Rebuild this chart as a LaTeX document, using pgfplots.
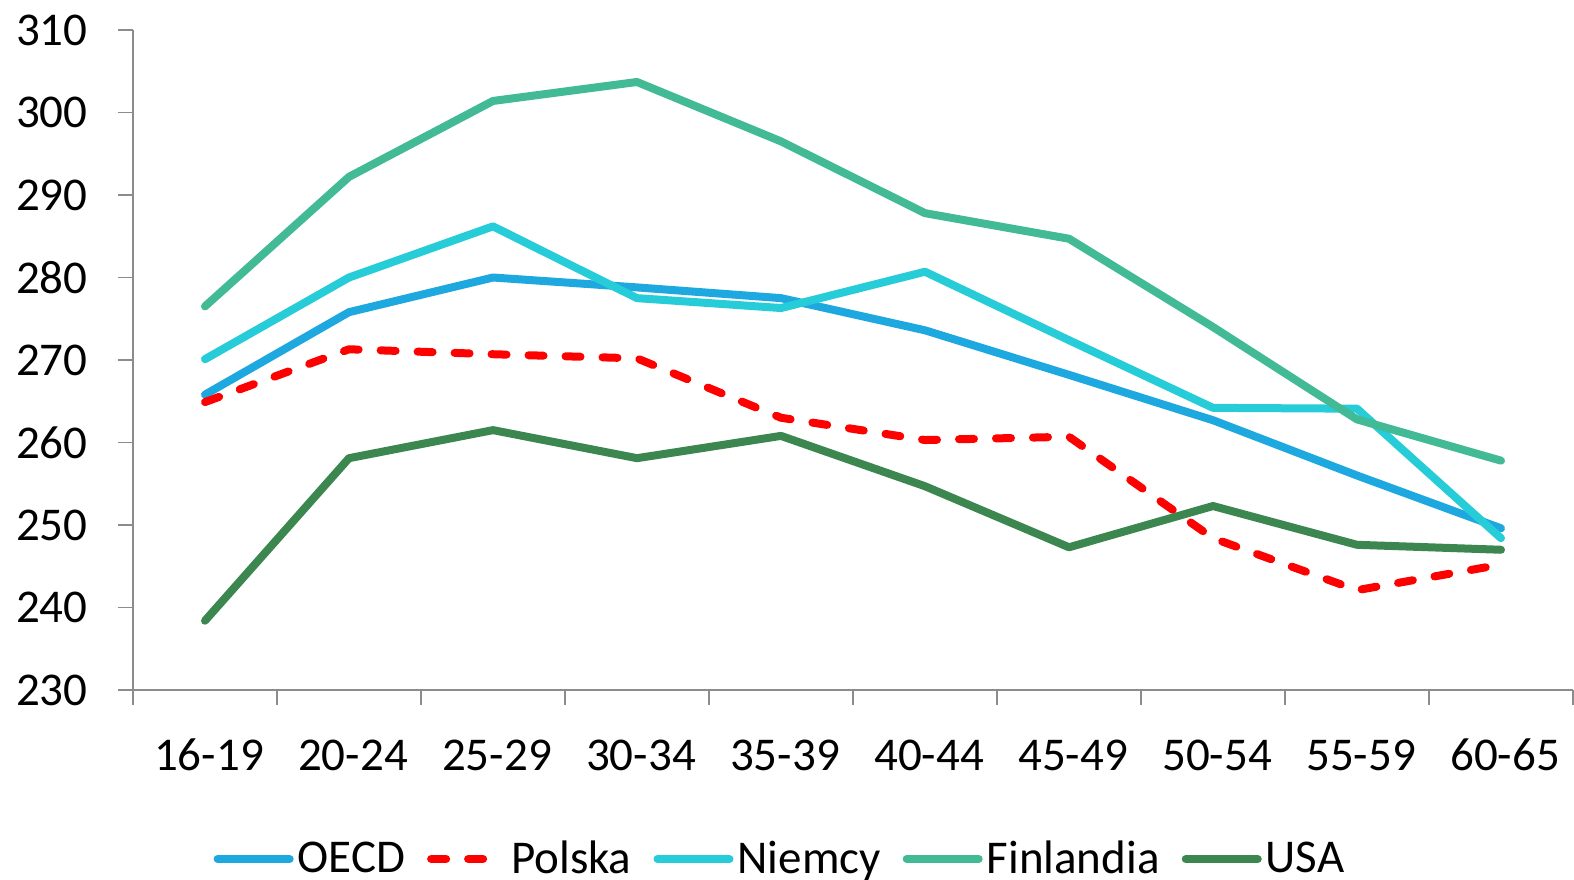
\documentclass[border=0pt]{standalone}
\usepackage{fontspec}
\setmainfont{Carlito}
\usepackage{pgfplots}
\pgfplotsset{compat=1.18}
\definecolor{cOECD}{HTML}{1EA8E0}
\definecolor{cPL}{HTML}{FF0000}
\definecolor{cDE}{HTML}{26CCD8}
\definecolor{cFI}{HTML}{42BA96}
\definecolor{cUS}{HTML}{3C8650}
\definecolor{axgray}{HTML}{8C8C8C}
\begin{document}
\begin{tikzpicture}
\fill[white] (-66.5pt,-94.5pt) rectangle (720.5pt,345pt);
\begin{axis}[
  at={(0,0)}, anchor=south west,
  scale only axis, width=720pt, height=330pt,
  xmin=-0.5, xmax=9.5, ymin=230, ymax=310,
  axis x line*=bottom, axis y line*=left,
  axis line style={axgray, line width=0.8pt},
  xtick={0,...,9},
  xticklabels={16-19,20-24,25-29,30-34,35-39,40-44,45-49,50-54,55-59,60-65},
  minor xtick={-0.5,0.5,...,9.5},
  major x tick style={draw=none},
  ytick={230,240,...,310},
  tick align=outside,
  tick style={axgray, line width=0.8pt},
  major tick length=7.5pt, minor tick length=7.5pt,
  /pgf/number format/assume math mode=true,
  /pgf/number format/1000 sep={},
  tick label style={font=\fontsize{23.5}{28}\selectfont, inner sep=0pt},
  yticklabel style={anchor=east, xshift=-15pt},
  xticklabel style={anchor=base, yshift=-32.5pt, xshift=2pt},
  legend columns=5,
  legend style={draw=none, fill=none, font=\fontsize{23.5}{28}\selectfont,
    at={(axis description cs:0.45,-0.256)}, anchor=center,
    inner sep=0pt,
    /tikz/every even column/.append style={column sep=9pt}},
  legend image code/.code={\draw[#1] (0pt,0pt) -- (36pt,0pt);},
  every axis plot/.append style={line width=4pt, line join=round, line cap=round},
]
\addplot[cOECD] coordinates {(0,265.8)(1,275.8)(2,280.0)(3,278.8)(4,277.5)(5,273.6)(6,268.2)(7,262.7)(8,256.0)(9,249.6)};
\addlegendentry{OECD}
\addplot[cPL, dash pattern=on 7.5pt off 11pt] coordinates {(0,264.9)(1,271.3)(2,270.7)(3,270.2)(4,263.0)(5,260.3)(6,260.7)(7,248.4)(8,242.1)(9,245.2)};
\addlegendentry{Polska}
\addplot[cDE] coordinates {(0,270.1)(1,280.0)(2,286.2)(3,277.5)(4,276.3)(5,280.7)(6,272.4)(7,264.2)(8,264.1)(9,248.4)};
\addlegendentry{Niemcy}
\addplot[cFI] coordinates {(0,276.5)(1,292.2)(2,301.4)(3,303.7)(4,296.5)(5,287.8)(6,284.7)(7,274.0)(8,262.8)(9,257.8)};
\addlegendentry{Finlandia}
\addplot[cUS] coordinates {(0,238.4)(1,258.1)(2,261.5)(3,258.1)(4,260.8)(5,254.7)(6,247.3)(7,252.3)(8,247.6)(9,247.0)};
\addlegendentry{USA}
\end{axis}
\pgfresetboundingbox
\path (-66.5pt,-94.5pt) rectangle (720.5pt,345pt);
\end{tikzpicture}
\end{document}
